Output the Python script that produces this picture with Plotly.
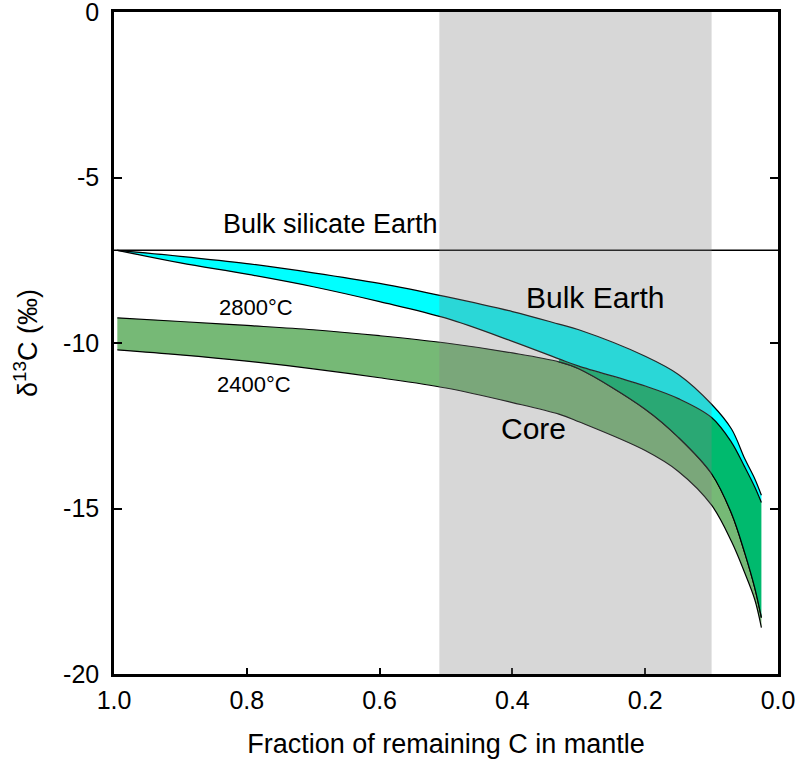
import plotly.graph_objs as go

# Fraction of remaining C in mantle (common grid for all curves)
frac = [0.995, 0.9, 0.8, 0.7, 0.6, 0.5, 0.4, 0.33, 0.3, 0.2, 0.15, 0.1, 0.07, 0.05, 0.035, 0.025]

# delta 13C curves
bulk_earth_top = [-7.2, -7.38, -7.6, -7.88, -8.2, -8.6, -9.05, -9.43, -9.6, -10.4, -10.95, -11.85, -12.6, -13.5, -14.1, -14.6]
bulk_earth_low = [-7.2, -7.58, -7.92, -8.3, -8.75, -9.25, -9.95, -10.48, -10.7, -11.3, -11.68, -12.25, -13.0, -13.75, -14.35, -14.82]
core_2800 = [-9.24, -9.35, -9.47, -9.6, -9.78, -10.0, -10.3, -10.57, -10.78, -12.0, -12.85, -13.95, -15.15, -16.35, -17.4, -18.3]
core_2400 = [-10.21, -10.36, -10.55, -10.78, -11.05, -11.36, -11.8, -12.15, -12.38, -13.25, -13.88, -14.9, -16.0, -16.95, -17.75, -18.6]

bse_value = -7.2
band_range = [0.51, 0.10]   # shaded gray interval of f

x_ticks = [1.0, 0.8, 0.6, 0.4, 0.2, 0.0]
y_ticks = [0, -5, -10, -15, -20]

CYAN = "rgb(0,255,255)"
LIGHT_GREEN = "rgb(118,185,118)"
DARK_GREEN = "rgb(0,186,110)"
FONT = "Arial, Liberation Sans, sans-serif"

line = dict(color="black", width=1.2, shape="spline", smoothing=1.0)

fig = go.Figure()

# Core band (2800 -> 2400 C)
fig.add_trace(go.Scatter(x=frac, y=core_2800, mode="lines", line=line, hoverinfo="skip"))
fig.add_trace(go.Scatter(x=frac, y=core_2400, mode="lines", line=line,
                         fill="tonexty", fillcolor=LIGHT_GREEN, hoverinfo="skip"))

# darker green wedge between bulk earth lower curve and core 2800 curve
sub = [i for i, f in enumerate(frac) if f <= 0.33]
fig.add_trace(go.Scatter(x=[frac[i] for i in sub], y=[bulk_earth_low[i] for i in sub],
                         mode="lines", line=dict(width=0, shape="spline", smoothing=1.0),
                         hoverinfo="skip"))
fig.add_trace(go.Scatter(x=[frac[i] for i in sub], y=[core_2800[i] for i in sub],
                         mode="lines", line=line, fill="tonexty", fillcolor=DARK_GREEN,
                         hoverinfo="skip"))

# Bulk Earth band
fig.add_trace(go.Scatter(x=frac, y=bulk_earth_top, mode="lines", line=line, hoverinfo="skip"))
fig.add_trace(go.Scatter(x=frac, y=bulk_earth_low, mode="lines", line=line,
                         fill="tonexty", fillcolor=CYAN, hoverinfo="skip"))

# Bulk silicate Earth reference line
fig.add_hline(y=bse_value, line=dict(color="black", width=1.5))

# gray shaded range drawn over the curves
fig.add_shape(type="rect", xref="x", yref="paper", x0=band_range[0], x1=band_range[1],
              y0=0, y1=1, fillcolor="rgba(132,132,132,0.32)", line=dict(width=0),
              layer="above")

labels = [
    ("Bulk silicate Earth", 0.674, -6.39, 27),
    ("Bulk Earth", 0.276, -8.62, 30),
    ("2800°C", 0.786, -8.93, 22),
    ("2400°C", 0.789, -11.26, 22),
    ("Core", 0.368, -12.59, 30),
]
for txt, x, y, sz in labels:
    fig.add_annotation(x=x, y=y, text=txt, showarrow=False,
                       font=dict(family=FONT, size=sz, color="black"))

fig.update_layout(
    width=797, height=773,
    margin=dict(l=114, r=19, t=12, b=99),
    paper_bgcolor="white", plot_bgcolor="white",
    showlegend=False,
    font=dict(family=FONT, color="black"),
)

fig.update_xaxes(
    range=[1.0, 0.0], tickvals=x_ticks, ticktext=[f"{v:.1f}" for v in x_ticks],
    showgrid=False, zeroline=False, automargin=False,
    showline=True, linecolor="black", linewidth=2.5, mirror=True,
    ticks="inside", ticklen=6, tickcolor="black", tickwidth=2,
    tickfont=dict(size=25), ticklabelstandoff=2, ticklabeloverflow="allow",
    title=dict(text="Fraction of remaining C in mantle", font=dict(size=27), standoff=22),
)
fig.update_yaxes(
    range=[-20, 0], tickvals=y_ticks, ticktext=[str(v) for v in y_ticks],
    showgrid=False, zeroline=False, automargin=False,
    showline=True, linecolor="black", linewidth=2.5, mirror="ticks",
    ticks="inside", ticklen=8, tickcolor="black", tickwidth=2,
    tickfont=dict(size=25), ticklabelstandoff=7, ticklabeloverflow="allow",
    title=dict(text="δ<sup>13</sup>C (‰)", font=dict(size=27), standoff=18),
)

# drop the browser's default body margin so the figure sits at the page corner
fig.write_html("out.html", config={"displayModeBar": False},
               post_script="document.body.style.margin='0';")
